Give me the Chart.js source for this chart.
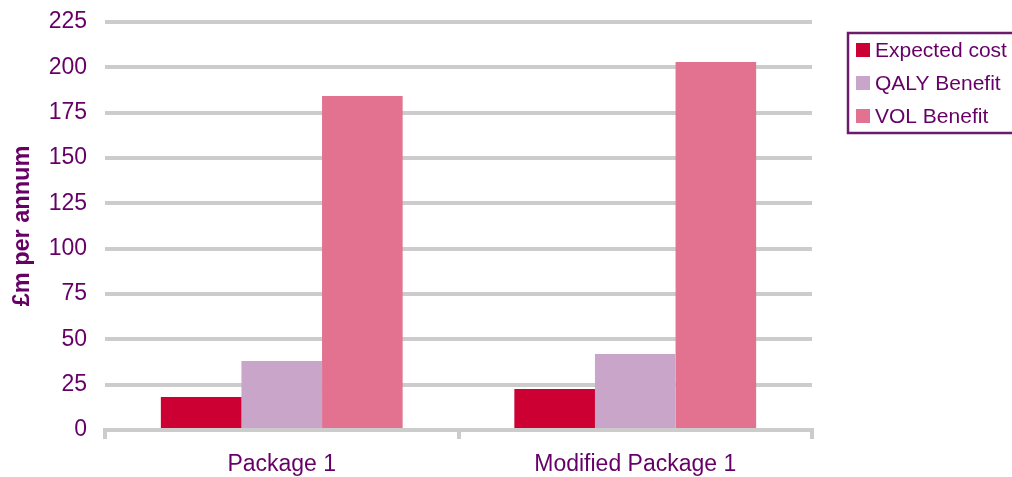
<!DOCTYPE html>
<html>
<head>
<meta charset="utf-8">
<title>£m per annum</title>
<script src="https://cdn.jsdelivr.net/npm/chart.js@4/dist/chart.umd.min.js"></script>
<style>
    body { margin: 0; background: #fff; }
    #wrap { width: 1012px; height: 477px; position: relative; }
</style>
</head>
<body>
<div id="wrap"><canvas id="chartPackages"></canvas></div>
<script>
const categories = ['Package 1', 'Modified Package 1'];
const seriesNames = ['Expected cost', 'QALY Benefit', 'VOL Benefit'];
const expectedCost = [18.2, 22.6];
const qalyBenefit = [38.0, 41.9];
const volBenefit = [184.2, 202.9];
const yTicks = [0, 25, 50, 75, 100, 125, 150, 175, 200, 225];

const couleurs = ['#cc0033', '#c9a5ca', '#e2728f'];
const violet = '#660066';
const gris = '#cccccc';
const police = 'Liberation Sans, Arial, sans-serif';

// Légende encadrée, dessinée à droite du graphique
const legendeCadre = {
    id: 'legendeCadre',
    afterDraw(chart) {
        const ctx = chart.ctx;
        ctx.save();
        ctx.strokeStyle = '#6b1c6b';
        ctx.lineWidth = 2.5;
        ctx.strokeRect(848, 33, 200, 100);
        ctx.font = '21px ' + police;
        ctx.textBaseline = 'middle';
        chart.data.datasets.forEach((ds, i) => {
            const y = 50 + i * 33;
            ctx.fillStyle = ds.backgroundColor;
            ctx.fillRect(856, y - 7, 14, 14);
            ctx.fillStyle = violet;
            ctx.fillText(ds.label, 875, y + 1);
        });
        ctx.restore();
    }
};

new Chart(document.getElementById('chartPackages'), {
    type: 'bar',
    data: {
        labels: categories,
        datasets: [
            { label: seriesNames[0], data: expectedCost, backgroundColor: couleurs[0] },
            { label: seriesNames[1], data: qalyBenefit, backgroundColor: couleurs[1] },
            { label: seriesNames[2], data: volBenefit, backgroundColor: couleurs[2] }
        ]
    },
    options: {
        responsive: true,
        maintainAspectRatio: false,
        animation: false,
        datasets: { bar: { categoryPercentage: 0.684, barPercentage: 1.0 } },
        layout: { padding: { left: 0, right: 200, top: 22, bottom: 0 } },
        plugins: { legend: { display: false }, tooltip: { enabled: false } },
        scales: {
            x: {
                grid: { offset: true, drawOnChartArea: false, drawTicks: true, tickLength: 9, lineWidth: 4, color: gris },
                border: { display: true, color: gris, width: 4 },
                ticks: { color: violet, font: { family: police, size: 23 }, padding: 12 },
                afterFit(scale) {
                    scale.height = 47;
                    scale.paddingLeft = 0;
                    scale.paddingRight = 0;
                }
            },
            y: {
                min: 0,
                max: 225,
                afterBuildTicks(scale) { scale.ticks = yTicks.map(v => ({ value: v })); },
                grid: { drawTicks: false, lineWidth: 4, color: gris },
                border: { display: false },
                ticks: { color: violet, font: { family: police, size: 23 }, padding: 18 },
                title: {
                    display: true,
                    text: '£m per annum',
                    color: violet,
                    font: { family: police, size: 23.5, weight: 'bold' },
                    padding: { top: 8, bottom: 0 }
                },
                afterFit(scale) {
                    scale.width = 105;
                    scale.paddingTop = 0;
                    scale.paddingBottom = 0;
                }
            }
        }
    },
    plugins: [legendeCadre]
});
</script>
</body>
</html>
